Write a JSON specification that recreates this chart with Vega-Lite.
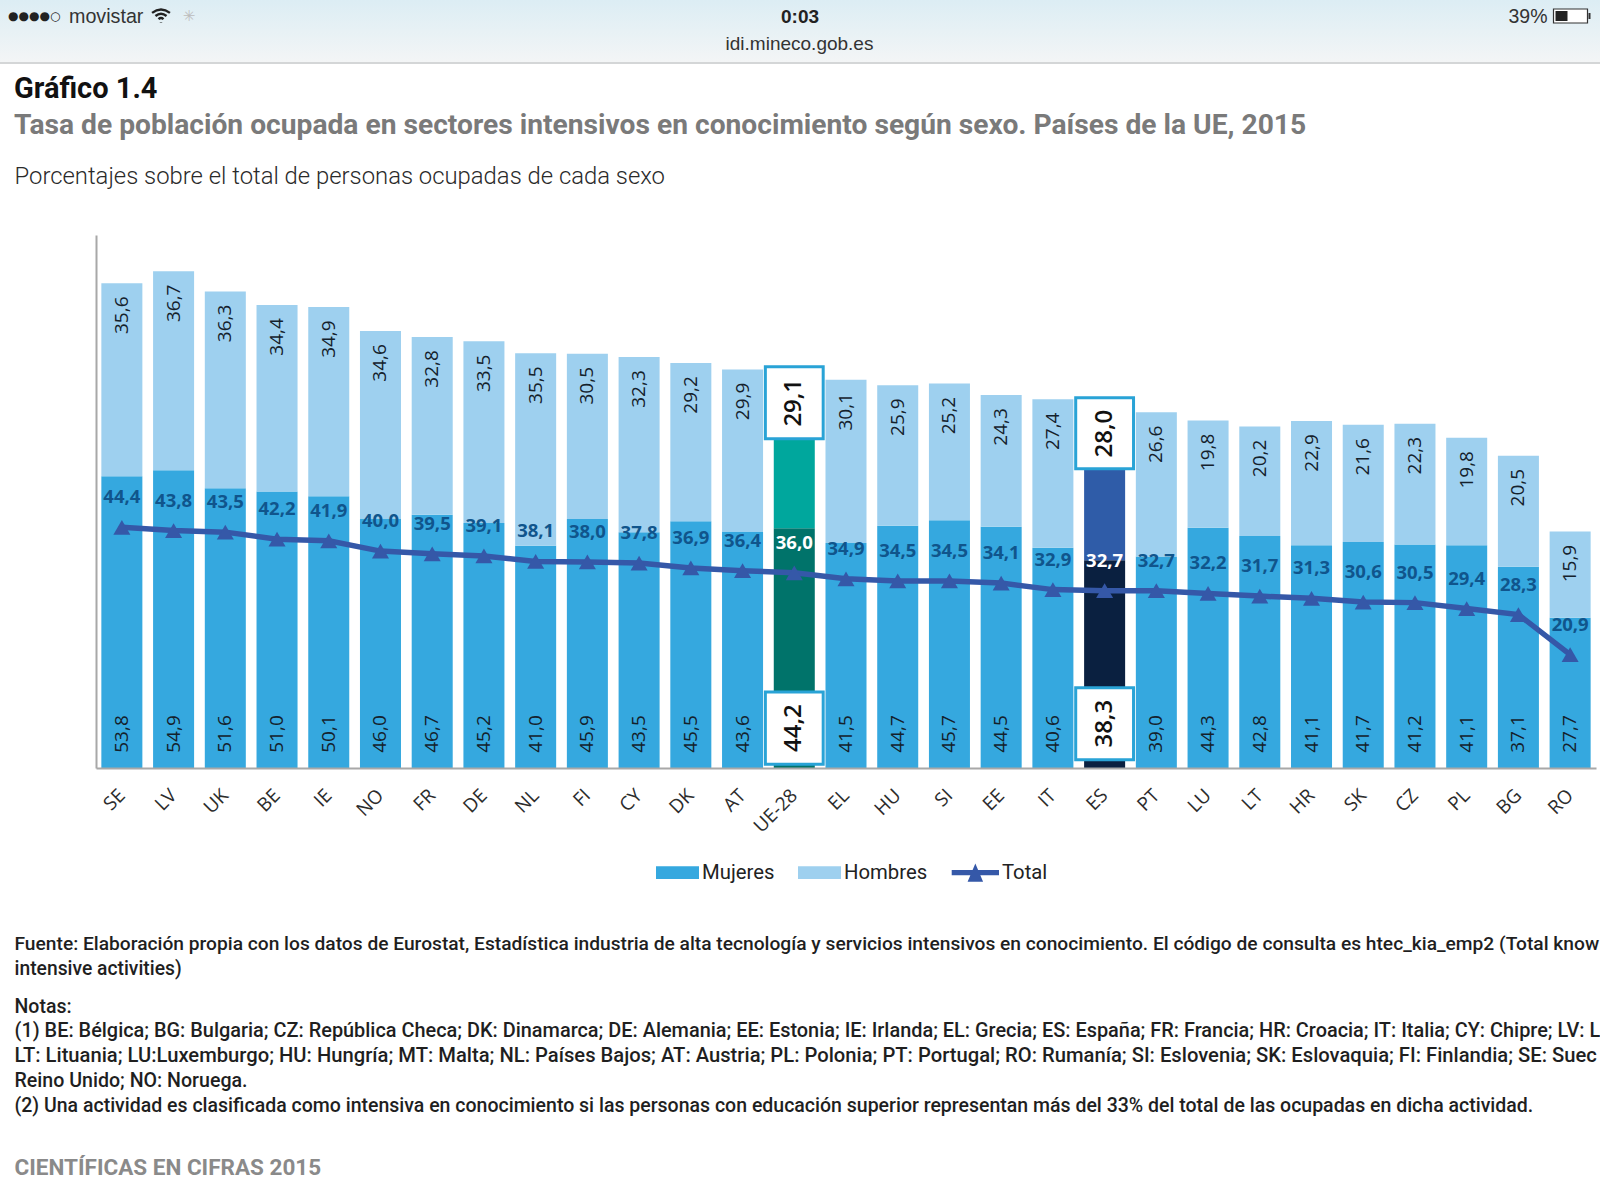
{
"$schema":"https://vega.github.io/schema/vega-lite/v6.json",
"width":1500,"height":533,
"autosize":{"type":"none"},
"padding":{"left":96,"top":235,"right":4,"bottom":432},
"background":"white",
"title":{"text":"Gráfico 1.4","subtitle":"Tasa de población ocupada en sectores intensivos en conocimiento según sexo. Países de la UE, 2015","anchor":"start","frame":"group","dx":-82,"offset":-139,"font":"Roboto","fontSize":29,"fontWeight":"bold","color":"#111111","subtitleFont":"Roboto","subtitleFontSize":28.2,"subtitleFontWeight":"bold","subtitleColor":"#7a7a7a","subtitlePadding":8},
"config":{"view":{"stroke":null},"locale":{"number":{"decimal":",","thousands":".","grouping":[3],"currency":["","€"]}}},
"datasets":{
"valores":[
{"pais":"SE","serie":"Mujeres","grupo":"Mujeres","valor":53.8},{"pais":"SE","serie":"Hombres","grupo":"Hombres","valor":35.6},{"pais":"SE","serie":"Total","grupo":"Total","valor":44.4},
{"pais":"LV","serie":"Mujeres","grupo":"Mujeres","valor":54.9},{"pais":"LV","serie":"Hombres","grupo":"Hombres","valor":36.7},{"pais":"LV","serie":"Total","grupo":"Total","valor":43.8},
{"pais":"UK","serie":"Mujeres","grupo":"Mujeres","valor":51.6},{"pais":"UK","serie":"Hombres","grupo":"Hombres","valor":36.3},{"pais":"UK","serie":"Total","grupo":"Total","valor":43.5},
{"pais":"BE","serie":"Mujeres","grupo":"Mujeres","valor":51.0},{"pais":"BE","serie":"Hombres","grupo":"Hombres","valor":34.4},{"pais":"BE","serie":"Total","grupo":"Total","valor":42.2},
{"pais":"IE","serie":"Mujeres","grupo":"Mujeres","valor":50.1},{"pais":"IE","serie":"Hombres","grupo":"Hombres","valor":34.9},{"pais":"IE","serie":"Total","grupo":"Total","valor":41.9},
{"pais":"NO","serie":"Mujeres","grupo":"Mujeres","valor":46.0},{"pais":"NO","serie":"Hombres","grupo":"Hombres","valor":34.6},{"pais":"NO","serie":"Total","grupo":"Total","valor":40.0},
{"pais":"FR","serie":"Mujeres","grupo":"Mujeres","valor":46.7},{"pais":"FR","serie":"Hombres","grupo":"Hombres","valor":32.8},{"pais":"FR","serie":"Total","grupo":"Total","valor":39.5},
{"pais":"DE","serie":"Mujeres","grupo":"Mujeres","valor":45.2},{"pais":"DE","serie":"Hombres","grupo":"Hombres","valor":33.5},{"pais":"DE","serie":"Total","grupo":"Total","valor":39.1},
{"pais":"NL","serie":"Mujeres","grupo":"Mujeres","valor":41.0},{"pais":"NL","serie":"Hombres","grupo":"Hombres","valor":35.5},{"pais":"NL","serie":"Total","grupo":"Total","valor":38.1},
{"pais":"FI","serie":"Mujeres","grupo":"Mujeres","valor":45.9},{"pais":"FI","serie":"Hombres","grupo":"Hombres","valor":30.5},{"pais":"FI","serie":"Total","grupo":"Total","valor":38.0},
{"pais":"CY","serie":"Mujeres","grupo":"Mujeres","valor":43.5},{"pais":"CY","serie":"Hombres","grupo":"Hombres","valor":32.3},{"pais":"CY","serie":"Total","grupo":"Total","valor":37.8},
{"pais":"DK","serie":"Mujeres","grupo":"Mujeres","valor":45.5},{"pais":"DK","serie":"Hombres","grupo":"Hombres","valor":29.2},{"pais":"DK","serie":"Total","grupo":"Total","valor":36.9},
{"pais":"AT","serie":"Mujeres","grupo":"Mujeres","valor":43.6},{"pais":"AT","serie":"Hombres","grupo":"Hombres","valor":29.9},{"pais":"AT","serie":"Total","grupo":"Total","valor":36.4},
{"pais":"UE-28","serie":"Mujeres","grupo":"Mujeres UE-28","valor":44.2},{"pais":"UE-28","serie":"Hombres","grupo":"Hombres UE-28","valor":29.1},{"pais":"UE-28","serie":"Total","grupo":"Total","valor":36.0},
{"pais":"EL","serie":"Mujeres","grupo":"Mujeres","valor":41.5},{"pais":"EL","serie":"Hombres","grupo":"Hombres","valor":30.1},{"pais":"EL","serie":"Total","grupo":"Total","valor":34.9},
{"pais":"HU","serie":"Mujeres","grupo":"Mujeres","valor":44.7},{"pais":"HU","serie":"Hombres","grupo":"Hombres","valor":25.9},{"pais":"HU","serie":"Total","grupo":"Total","valor":34.5},
{"pais":"SI","serie":"Mujeres","grupo":"Mujeres","valor":45.7},{"pais":"SI","serie":"Hombres","grupo":"Hombres","valor":25.2},{"pais":"SI","serie":"Total","grupo":"Total","valor":34.5},
{"pais":"EE","serie":"Mujeres","grupo":"Mujeres","valor":44.5},{"pais":"EE","serie":"Hombres","grupo":"Hombres","valor":24.3},{"pais":"EE","serie":"Total","grupo":"Total","valor":34.1},
{"pais":"IT","serie":"Mujeres","grupo":"Mujeres","valor":40.6},{"pais":"IT","serie":"Hombres","grupo":"Hombres","valor":27.4},{"pais":"IT","serie":"Total","grupo":"Total","valor":32.9},
{"pais":"ES","serie":"Mujeres","grupo":"Mujeres ES","valor":38.3},{"pais":"ES","serie":"Hombres","grupo":"Hombres ES","valor":28.0},{"pais":"ES","serie":"Total","grupo":"Total","valor":32.7},
{"pais":"PT","serie":"Mujeres","grupo":"Mujeres","valor":39.0},{"pais":"PT","serie":"Hombres","grupo":"Hombres","valor":26.6},{"pais":"PT","serie":"Total","grupo":"Total","valor":32.7},
{"pais":"LU","serie":"Mujeres","grupo":"Mujeres","valor":44.3},{"pais":"LU","serie":"Hombres","grupo":"Hombres","valor":19.8},{"pais":"LU","serie":"Total","grupo":"Total","valor":32.2},
{"pais":"LT","serie":"Mujeres","grupo":"Mujeres","valor":42.8},{"pais":"LT","serie":"Hombres","grupo":"Hombres","valor":20.2},{"pais":"LT","serie":"Total","grupo":"Total","valor":31.7},
{"pais":"HR","serie":"Mujeres","grupo":"Mujeres","valor":41.1},{"pais":"HR","serie":"Hombres","grupo":"Hombres","valor":22.9},{"pais":"HR","serie":"Total","grupo":"Total","valor":31.3},
{"pais":"SK","serie":"Mujeres","grupo":"Mujeres","valor":41.7},{"pais":"SK","serie":"Hombres","grupo":"Hombres","valor":21.6},{"pais":"SK","serie":"Total","grupo":"Total","valor":30.6},
{"pais":"CZ","serie":"Mujeres","grupo":"Mujeres","valor":41.2},{"pais":"CZ","serie":"Hombres","grupo":"Hombres","valor":22.3},{"pais":"CZ","serie":"Total","grupo":"Total","valor":30.5},
{"pais":"PL","serie":"Mujeres","grupo":"Mujeres","valor":41.1},{"pais":"PL","serie":"Hombres","grupo":"Hombres","valor":19.8},{"pais":"PL","serie":"Total","grupo":"Total","valor":29.4},
{"pais":"BG","serie":"Mujeres","grupo":"Mujeres","valor":37.1},{"pais":"BG","serie":"Hombres","grupo":"Hombres","valor":20.5},{"pais":"BG","serie":"Total","grupo":"Total","valor":28.3},
{"pais":"RO","serie":"Mujeres","grupo":"Mujeres","valor":27.7},{"pais":"RO","serie":"Hombres","grupo":"Hombres","valor":15.9},{"pais":"RO","serie":"Total","grupo":"Total","valor":20.9}
],
"cajas":[
{"pais":"UE-28","valor":29.1,"tope":74.0,"base":60.7},
{"pais":"UE-28","valor":44.2,"tope":14.0,"base":0.7},
{"pais":"ES","valor":28.0,"tope":68.3,"base":55.2},
{"pais":"ES","valor":38.3,"tope":14.8,"base":1.5}
],
"fila":[{"id":1}]
},
"layer":[
{"data":{"name":"fila"},"mark":{"type":"rect","fill":{"gradient":"linear","x1":0,"y1":0,"x2":0,"y2":1,"stops":[{"offset":0,"color":"#dcedf4"},{"offset":1,"color":"#f3f5f6"}]}},"encoding":{"x":{"value":-96},"x2":{"value":1504},"y":{"value":-235},"y2":{"value":-173}}},
{"data":{"name":"fila"},"mark":{"type":"rule","color":"#c6c8ca","strokeWidth":1.5},"encoding":{"x":{"value":-96},"x2":{"value":1504},"y":{"value":-172}}},
{"data":{"name":"valores"},"transform":[{"filter":"datum.serie!=='Total'"},{"stack":"valor","groupby":["pais"],"sort":[{"field":"serie","order":"descending"}],"as":["y0","y1"]}],
"mark":{"type":"bar"},
"encoding":{
"x":{"field":"pais","type":"nominal","sort":null,"title":null,
"scale":{"domain":["SE","LV","UK","BE","IE","NO","FR","DE","NL","FI","CY","DK","AT","UE-28","EL","HU","SI","EE","IT","ES","PT","LU","LT","HR","SK","CZ","PL","BG","RO"],"paddingInner":0.207,"paddingOuter":0.1035},
"axis":{"ticks":false,"labelAngle":-45,"labelAlign":"right","labelBaseline":"middle","labelPadding":24,"labelFont":"Open Sans","labelFontSize":19,"labelColor":"#2c2c2c","domainColor":"#a8a8a8","domainWidth":2,"grid":false,"zindex":1}},
"y":{"field":"y1","type":"quantitative","title":null,"scale":{"domain":[0,98.3],"nice":false},"axis":{"labels":false,"ticks":false,"grid":false,"domainColor":"#a8a8a8","domainWidth":2}},
"y2":{"field":"y0"},
"color":{"field":"grupo","type":"nominal","scale":{"domain":["Mujeres","Hombres","Total","Mujeres UE-28","Hombres UE-28","Mujeres ES","Hombres ES"],"range":["#35a8df","#9ed0ef","#3558a8","#00736a","#00a79d","#0a2040","#2f5ca8"]},
"legend":{"values":["Mujeres","Hombres","Total"],"title":null,"orient":"none","legendX":560,"legendY":616,"direction":"horizontal","columns":3,"columnPadding":23,"labelFont":"Roboto","labelFontSize":20.3,"labelColor":"#222222","labelOffset":3,"symbolSize":1849,"symbolStrokeWidth":0,
"encoding":{"symbols":{"shape":{"condition":{"test":"datum.value==='Total'","value":"M-1.2,-0.12H1V0.12H-1.2Z M-0.46,0.42L-0.1,-0.42L0.26,0.42Z"},"value":"M-1,-0.3H1V0.3H-1Z"}}}}}
}},
{"data":{"name":"valores"},"transform":[{"filter":"datum.serie==='Total'"}],
"mark":{"type":"line","strokeWidth":5.5,"color":"#3558a8"},
"encoding":{"x":{"field":"pais","type":"nominal","sort":null},"y":{"field":"valor","type":"quantitative"}}},
{"data":{"name":"valores"},"transform":[{"filter":"datum.serie==='Total'"}],
"mark":{"type":"point","filled":true,"shape":"triangle-up","size":290,"color":"#3558a8","opacity":1},
"encoding":{"x":{"field":"pais","type":"nominal","sort":null},"y":{"field":"valor","type":"quantitative"}}},
{"data":{"name":"valores"},"transform":[{"filter":"datum.serie==='Total'"}],
"mark":{"type":"text","font":"Open Sans","fontWeight":"bold","fontSize":18.5,"dy":-30,"baseline":"middle","align":"center"},
"encoding":{"x":{"field":"pais","type":"nominal","sort":null},"y":{"field":"valor","type":"quantitative"},"text":{"field":"valor","type":"quantitative","format":".1f"},
"color":{"condition":{"test":"datum.pais==='UE-28'||datum.pais==='ES'","value":"#ffffff"},"value":"#10558c"}}},
{"data":{"name":"valores"},"transform":[{"filter":"datum.serie==='Mujeres'&&datum.pais!=='UE-28'&&datum.pais!=='ES'"}],
"mark":{"type":"text","font":"Open Sans","fontSize":19,"angle":270,"dx":34,"baseline":"middle","align":"center","color":"#14212c"},
"encoding":{"x":{"field":"pais","type":"nominal","sort":null},"y":{"datum":0,"type":"quantitative"},"text":{"field":"valor","type":"quantitative","format":".1f"}}},
{"data":{"name":"valores"},"transform":[{"filter":"datum.serie!=='Total'"},{"stack":"valor","groupby":["pais"],"sort":[{"field":"serie","order":"descending"}],"as":["y0","y1"]},{"filter":"datum.serie==='Hombres'&&datum.pais!=='UE-28'&&datum.pais!=='ES'"}],
"mark":{"type":"text","font":"Open Sans","fontSize":19,"angle":270,"dx":-32,"baseline":"middle","align":"center","color":"#14212c"},
"encoding":{"x":{"field":"pais","type":"nominal","sort":null},"y":{"field":"y1","type":"quantitative"},"text":{"field":"valor","type":"quantitative","format":".1f"}}},
{"data":{"name":"cajas"},
"mark":{"type":"bar","fill":"white","stroke":"#29a3d6","strokeWidth":3,"width":{"band":1.41}},
"encoding":{"x":{"field":"pais","type":"nominal","sort":null},"y":{"field":"tope","type":"quantitative"},"y2":{"field":"base"}}},
{"data":{"name":"cajas"},
"mark":{"type":"text","font":"Open Sans","fontSize":24,"fontWeight":600,"angle":270,"dx":-36,"baseline":"middle","align":"center","color":"#111111"},
"encoding":{"x":{"field":"pais","type":"nominal","sort":null},"y":{"field":"tope","type":"quantitative"},"text":{"field":"valor","type":"quantitative","format":".1f"}}},

{"data":{"name":"fila"},"mark":{"type":"text","text":"●●●●○","font":"DejaVu Sans","fontSize":12,"align":"left","baseline":"middle","color":"#222222","x":-88,"y":-219},"encoding":{}},
{"data":{"name":"fila"},"mark":{"type":"text","text":"movistar","font":"Liberation Sans","fontSize":19.7,"align":"left","baseline":"middle","color":"#333333","x":-27,"y":-218},"encoding":{}},
{"data":{"name":"fila"},"mark":{"type":"point","shape":"M-1,-0.35Q0,-1.1 1,-0.35M-0.62,0Q0,-0.5 0.62,0M-0.28,0.35Q0,0.1 0.28,0.35M0,0.7L0,0.75","filled":false,"size":320,"strokeWidth":2.4,"color":"#222222","opacity":1,"x":65,"y":-219},"encoding":{}},
{"data":{"name":"fila"},"mark":{"type":"text","text":"✳","font":"DejaVu Sans","fontSize":15,"align":"center","baseline":"middle","color":"#bdbdbd","x":93,"y":-219},"encoding":{}},
{"data":{"name":"fila"},"mark":{"type":"text","text":"0:03","font":"Liberation Sans","fontWeight":"bold","fontSize":19,"align":"center","baseline":"middle","color":"#222222","x":704,"y":-218},"encoding":{}},
{"data":{"name":"fila"},"mark":{"type":"text","text":"idi.mineco.gob.es","font":"Liberation Sans","fontSize":19,"align":"center","baseline":"middle","color":"#333333","x":703.5,"y":-191},"encoding":{}},
{"data":{"name":"fila"},"mark":{"type":"text","text":"39%","font":"Liberation Sans","fontSize":19.5,"align":"right","baseline":"middle","color":"#333333","x":1451.5,"y":-218},"encoding":{}},
{"data":{"name":"fila"},"mark":{"type":"rect","fill":"#ffffff","stroke":"#333333","strokeWidth":1.2},"encoding":{"x":{"value":1457.5},"x2":{"value":1491.5},"y":{"value":-226},"y2":{"value":-212}}},
{"data":{"name":"fila"},"mark":{"type":"rect","fill":"#222222"},"encoding":{"x":{"value":1459.5},"x2":{"value":1471.5},"y":{"value":-224},"y2":{"value":-214}}},
{"data":{"name":"fila"},"mark":{"type":"rect","fill":"#333333"},"encoding":{"x":{"value":1492.5},"x2":{"value":1494.5},"y":{"value":-222},"y2":{"value":-216}}},

{"data":{"name":"fila"},"mark":{"type":"text","text":"Porcentajes sobre el total de personas ocupadas de cada sexo","font":"Roboto","fontWeight":300,"fontSize":23.85,"align":"left","baseline":"middle","color":"#2a2a2a","x":-81.5,"y":-58},"encoding":{}},
{"data":{"name":"fila"},"mark":{"type":"text","text":"Fuente: Elaboración propia con los datos de Eurostat, Estadística industria de alta tecnología y servicios intensivos en conocimiento. El código de consulta es htec_kia_emp2 (Total know","font":"Roboto","fontWeight":500,"fontSize":19.2,"align":"left","baseline":"middle","color":"#1f1f1f","x":-81.5,"y":709},"encoding":{}},
{"data":{"name":"fila"},"mark":{"type":"text","text":"intensive activities)","font":"Roboto","fontWeight":500,"fontSize":19.3,"align":"left","baseline":"middle","color":"#1f1f1f","x":-81.5,"y":733.5},"encoding":{}},
{"data":{"name":"fila"},"mark":{"type":"text","text":"Notas:","font":"Roboto","fontWeight":500,"fontSize":19.5,"align":"left","baseline":"middle","color":"#1f1f1f","x":-81.5,"y":771.5},"encoding":{}},
{"data":{"name":"fila"},"mark":{"type":"text","text":"(1) BE: Bélgica; BG: Bulgaria; CZ: República Checa; DK: Dinamarca; DE: Alemania; EE: Estonia; IE: Irlanda; EL: Grecia; ES: España; FR: Francia; HR: Croacia; IT: Italia; CY: Chipre; LV: L","font":"Roboto","fontWeight":500,"fontSize":19.9,"align":"left","baseline":"middle","color":"#1f1f1f","x":-81.5,"y":796.3},"encoding":{}},
{"data":{"name":"fila"},"mark":{"type":"text","text":"LT: Lituania; LU:Luxemburgo; HU: Hungría; MT: Malta; NL: Países Bajos; AT: Austria; PL: Polonia; PT: Portugal; RO: Rumanía; SI: Eslovenia; SK: Eslovaquia; FI: Finlandia; SE: Suec","font":"Roboto","fontWeight":500,"fontSize":20.2,"align":"left","baseline":"middle","color":"#1f1f1f","x":-81.5,"y":820.6},"encoding":{}},
{"data":{"name":"fila"},"mark":{"type":"text","text":"Reino Unido; NO: Noruega.","font":"Roboto","fontWeight":500,"fontSize":19.6,"align":"left","baseline":"middle","color":"#1f1f1f","x":-81.5,"y":846},"encoding":{}},
{"data":{"name":"fila"},"mark":{"type":"text","text":"(2) Una actividad es clasificada como intensiva en conocimiento si las personas con educación superior representan más del 33% del total de las ocupadas en dicha actividad.","font":"Roboto","fontWeight":500,"fontSize":19.5,"align":"left","baseline":"middle","color":"#1f1f1f","x":-81.5,"y":870.5},"encoding":{}},
{"data":{"name":"fila"},"mark":{"type":"text","text":"CIENTÍFICAS EN CIFRAS 2015","font":"Roboto","fontWeight":"bold","fontSize":22.5,"align":"left","baseline":"middle","color":"#8a8a8a","x":-81.5,"y":933},"encoding":{}}
]
}
